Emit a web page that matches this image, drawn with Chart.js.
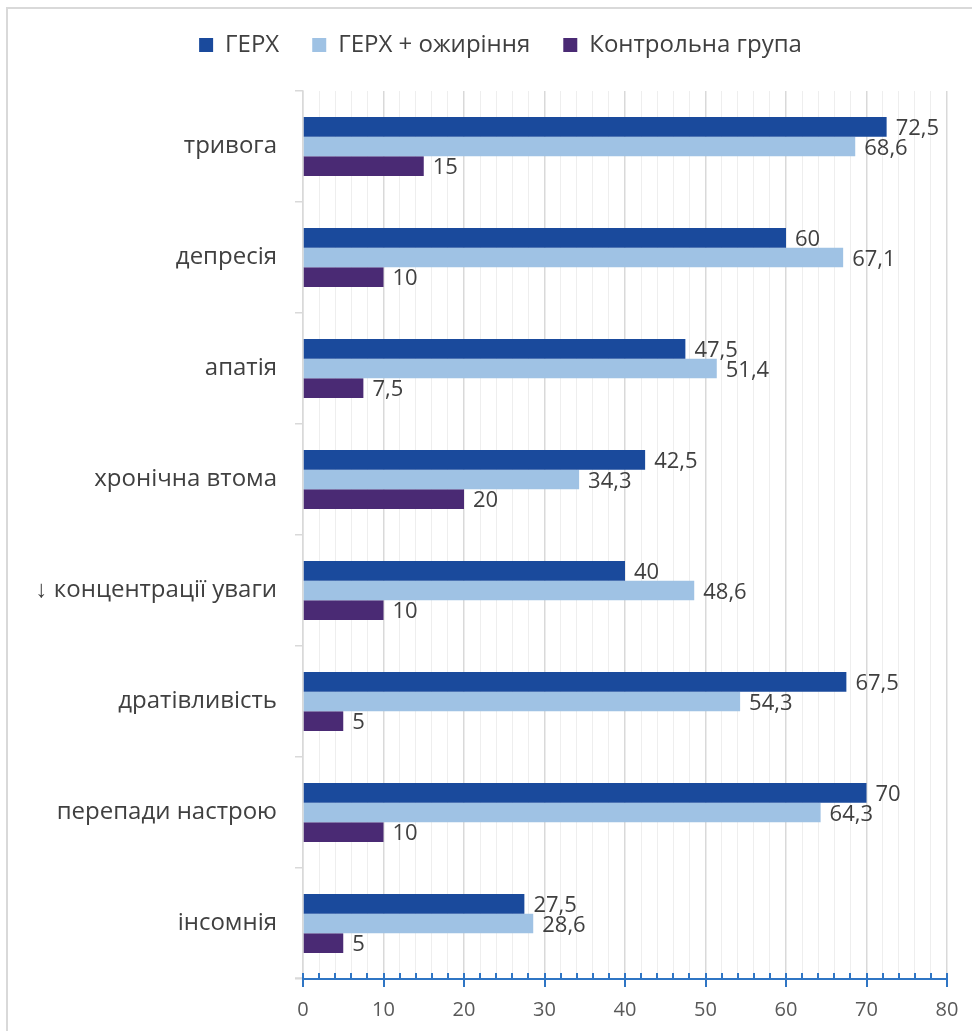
<!DOCTYPE html>
<html>
<head>
<meta charset="utf-8">
<script src="https://cdn.jsdelivr.net/npm/chart.js@4.4.1/dist/chart.umd.min.js"></script>
<style>
  html, body { margin: 0; padding: 0; background: #fff; }
  #wrap { position: absolute; left: 0; top: 0; width: 972px; height: 1031px; }
  #frame { position: absolute; left: 6px; top: 7px; width: 1000px; height: 1100px;
           border-left: 2px solid #d9d9d9; border-top: 2px solid #d9d9d9; }
</style>
</head>
<body>
<div id="wrap">
  <div id="frame"></div>
  <canvas id="chart" width="972" height="1031"></canvas>
</div>
<script>
// Categories (top to bottom)
const categories = [
    'тривога', 'депресія', 'апатія', 'хронічна втома',
    '↓ концентрації уваги', 'дратівливість', 'перепади настрою', 'інсомнія'
];

// Series values (%)
const gerxValues = [72.5, 60, 47.5, 42.5, 40, 67.5, 70, 27.5];
const gerxObesityValues = [68.6, 67.1, 51.4, 34.3, 48.6, 54.3, 64.3, 28.6];
const controlValues = [15, 10, 7.5, 20, 10, 5, 10, 5];

const seriesNames = ['ГЕРХ', 'ГЕРХ + ожиріння', 'Контрольна група'];

// X axis range
const xMin = 0;
const xMax = 80;
const xMajorStep = 10;
const xMinorStep = 2;

const colors = {
    gerx: '#1a4a9c',
    gerxObesity: '#9fc2e4',
    control: '#4a2a74',
    text: '#404040',
    axisText: '#595959',
    majorGrid: '#d9d9d9',
    minorGrid: '#eeeeee',
    axisBlue: '#2f75c4'
};

const fontFamily = "'Open Sans', 'Noto Sans', sans-serif";

// Legend: extra space below it and a small shift to the right
const legendTweak = {
    id: 'legendTweak',
    beforeLayout(chart) {
        const legend = chart.legend;
        if (legend && !legend._tweaked) {
            const fit = legend.fit;
            legend.fit = function () {
                fit.call(this);
                this.height += 24;
            };
            legend._tweaked = true;
        }
    },
    afterLayout(chart) {
        if (chart.legend) chart.legend.left += 34;
    }
};

// Value labels to the right of each bar
const valueLabels = {
    id: 'valueLabels',
    afterDatasetsDraw(chart) {
        const ctx = chart.ctx;
        ctx.save();
        ctx.font = `22px ${fontFamily}`;
        ctx.fillStyle = colors.text;
        ctx.textAlign = 'left';
        ctx.textBaseline = 'middle';
        chart.data.datasets.forEach((ds, di) => {
            const meta = chart.getDatasetMeta(di);
            meta.data.forEach((bar, i) => {
                const text = String(ds.data[i]).replace('.', ',');
                ctx.fillText(text, bar.x + 9, bar.y + 2);
            });
        });
        ctx.restore();
    }
};

// Blue bottom axis with major (crossing) and minor (upward) ticks
const bottomAxis = {
    id: 'bottomAxis',
    afterDraw(chart) {
        const ctx = chart.ctx;
        const xs = chart.scales.x;
        const y = chart.chartArea.bottom;
        ctx.save();
        ctx.strokeStyle = colors.majorGrid;
        ctx.lineWidth = 1.5;
        ctx.beginPath();
        ctx.moveTo(chart.chartArea.left - 8, y - 1);
        ctx.lineTo(chart.chartArea.left, y - 1);
        ctx.stroke();
        ctx.strokeStyle = colors.axisBlue;
        ctx.lineWidth = 2;
        ctx.beginPath();
        ctx.moveTo(xs.getPixelForValue(xMin), y);
        ctx.lineTo(xs.getPixelForValue(xMax), y);
        for (let v = xMin; v <= xMax; v += xMinorStep) {
            const px = Math.round(xs.getPixelForValue(v));
            if (v % xMajorStep === 0) {
                ctx.moveTo(px, y - 6);
                ctx.lineTo(px, y + 8);
            } else {
                ctx.moveTo(px, y - 6);
                ctx.lineTo(px, y);
            }
        }
        ctx.stroke();
        ctx.restore();
    }
};

new Chart(document.getElementById('chart'), {
    type: 'bar',
    data: {
        labels: categories,
        datasets: [
            { label: seriesNames[0], data: gerxValues, backgroundColor: colors.gerx },
            { label: seriesNames[1], data: gerxObesityValues, backgroundColor: colors.gerxObesity },
            { label: seriesNames[2], data: controlValues, backgroundColor: colors.control }
        ]
    },
    options: {
        indexAxis: 'y',
        responsive: false,
        animation: false,
        layout: { padding: { left: 20, right: 25, top: 0, bottom: 0 } },
        datasets: {
            bar: { categoryPercentage: 0.53, barPercentage: 1.0 }
        },
        plugins: {
            legend: {
                position: 'top',
                labels: {
                    color: colors.text,
                    font: { family: fontFamily, size: 24 },
                    boxWidth: 14,
                    boxHeight: 14,
                    padding: 33
                }
            },
            tooltip: { enabled: false }
        },
        scales: {
            x: {
                min: xMin,
                max: xMax,
                afterFit(scale) {
                    scale.height = 52;
                    scale.paddingLeft = 0;
                    scale.paddingRight = 0;
                },
                afterBuildTicks(scale) {
                    const ticks = [];
                    for (let v = xMin; v <= xMax; v += xMinorStep) ticks.push({ value: v });
                    scale.ticks = ticks;
                },
                grid: {
                    drawTicks: false,
                    color: (c) => (c.tick && c.tick.value % xMajorStep === 0) ? colors.majorGrid : colors.minorGrid,
                    lineWidth: (c) => (c.tick && c.tick.value % xMajorStep === 0) ? 1.5 : 1
                },
                border: { display: false },
                ticks: {
                    autoSkip: false,
                    maxRotation: 0,
                    padding: 19,
                    color: colors.axisText,
                    font: { family: fontFamily, size: 20 },
                    callback: (v) => (v % xMajorStep === 0) ? String(v) : ''
                }
            },
            y: {
                afterFit(scale) { scale.width = 283; },
                grid: {
                    drawOnChartArea: false,
                    offset: true,
                    tickLength: 8,
                    color: colors.majorGrid,
                    lineWidth: 1.5
                },
                border: { color: colors.majorGrid, width: 1.5 },
                ticks: {
                    padding: 18,
                    color: colors.text,
                    font: { family: fontFamily, size: 24 }
                }
            }
        }
    },
    plugins: [legendTweak, valueLabels, bottomAxis]
});
</script>
</body>
</html>
